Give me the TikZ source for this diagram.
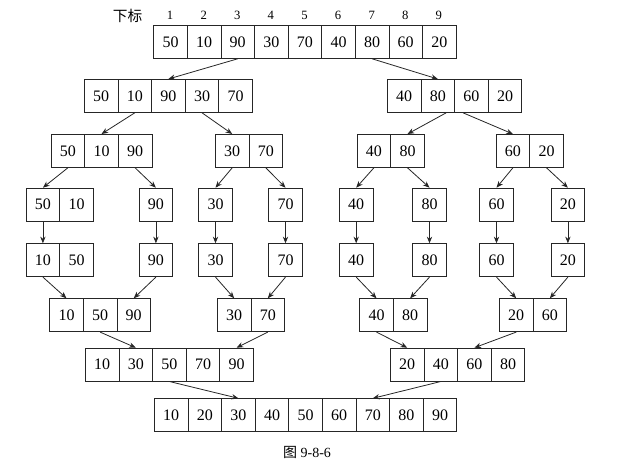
\documentclass[tikz,border=0pt]{standalone}
\usepackage{fontspec}
\setmainfont{Liberation Serif}
\newfontfamily\cjk{Noto Sans CJK SC}
\usetikzlibrary{arrows.meta,calc}
\newcommand{\cellrow}[4]{%
  \foreach \v [count=\i] in {#4} {
    \node[cell, anchor=north west] (#1-\i) at ({#2+(\i-1)*33.6},#3) {\v};
  }}
\begin{document}
\begin{tikzpicture}[x=0.75pt,y=-0.75pt,
  cell/.style={draw=black!85, line width=0.6pt, minimum width=25.2pt, minimum height=24.75pt, inner sep=0pt, font=\fontsize{12}{14}\selectfont},
  arr/.style={draw=black!85, line width=0.6pt, -{Stealth[length=5pt,width=4pt]}},
  hdr/.style={font=\fontsize{9.5}{11}\selectfont, inner sep=0pt}]
\useasboundingbox (0,0) rectangle (630,466);
% header
\node[hdr, font=\cjk\fontsize{11}{12}\selectfont] (lbl) at (127.5,15.5) {下标};
\foreach \i in {1,...,9} {
  \node[hdr] (h-\i) at ({153.3+(\i-0.5)*33.6},15.5) {\i};
}
% row 1
\cellrow{ra}{153.3}{25}{50,10,90,30,70,40,80,60,20}
% row 2
\cellrow{lb}{84}{79}{50,10,90,30,70}
\cellrow{rb}{387}{79}{40,80,60,20}
% row 3
\cellrow{ac}{50.7}{134}{50,10,90}
\cellrow{bc}{215}{134}{30,70}
\cellrow{cc}{356.7}{134}{40,80}
\cellrow{dc}{495.7}{134}{60,20}
% row 4
\cellrow{pd}{25.7}{187.7}{50,10}
\cellrow{sda}{138.7}{187.7}{90}
\cellrow{sdb}{198.3}{187.7}{30}
\cellrow{sdc}{268.3}{187.7}{70}
\cellrow{sdd}{339}{187.7}{40}
\cellrow{sde}{412.3}{187.7}{80}
\cellrow{sdf}{479.3}{187.7}{60}
\cellrow{sdg}{550.7}{187.7}{20}
% row 5
\cellrow{pe}{25.7}{243.3}{10,50}
\cellrow{sea}{138.7}{243.3}{90}
\cellrow{seb}{198.3}{243.3}{30}
\cellrow{sec}{268.3}{243.3}{70}
\cellrow{sed}{339}{243.3}{40}
\cellrow{see}{412.3}{243.3}{80}
\cellrow{sef}{479.3}{243.3}{60}
\cellrow{seg}{550.7}{243.3}{20}
% row 6
\cellrow{af}{49.3}{298.3}{10,50,90}
\cellrow{bf}{217}{298.3}{30,70}
\cellrow{cf}{359.3}{298.3}{40,80}
\cellrow{df}{499}{298.3}{20,60}
% row 7
\cellrow{lg}{85}{347.7}{10,30,50,70,90}
\cellrow{rg}{390}{347.7}{20,40,60,80}
% row 8
\cellrow{rh}{154}{398.3}{10,20,30,40,50,60,70,80,90}
% caption
\node[font=\fontsize{10.5}{12}\selectfont, inner sep=0pt] (cap) at (307,452) {{\cjk 图} 9-8-6};
% arrows
\draw[arr] (ra-3.south) -- (lb-3.north);
\draw[arr] (ra-7.south) -- (rb-2.north);
\draw[arr] (lb-2.south) -- (ac-2.north);
\draw[arr] (lb-4.south) -- (bc-1.north);
\draw[arr] ($(rb-2.south)!0.25!(rb-3.south)$) -- (cc-2.north);
\draw[arr] ($(rb-2.south)!0.75!(rb-3.south)$) -- (dc-1.north);
\draw[arr] (ac-1.south) -- (pd-1.north);
\draw[arr] (ac-3.south) -- (sda-1.north);
\draw[arr] (bc-1.south) -- (sdb-1.north);
\draw[arr] (bc-2.south) -- (sdc-1.north);
\draw[arr] (cc-1.south) -- (sdd-1.north);
\draw[arr] (cc-2.south) -- (sde-1.north);
\draw[arr] (dc-1.south) -- (sdf-1.north);
\draw[arr] (dc-2.south) -- (sdg-1.north);
\draw[arr] (pd-1.south) -- (pe-1.north);
\draw[arr] (sda-1.south) -- (sea-1.north);
\draw[arr] (sdb-1.south) -- (seb-1.north);
\draw[arr] (sdc-1.south) -- (sec-1.north);
\draw[arr] (sdd-1.south) -- (sed-1.north);
\draw[arr] (sde-1.south) -- (see-1.north);
\draw[arr] (sdf-1.south) -- (sef-1.north);
\draw[arr] (sdg-1.south) -- (seg-1.north);
\draw[arr] (pe-1.south) -- (af-1.north);
\draw[arr] (sea-1.south) -- (af-3.north);
\draw[arr] (seb-1.south) -- (bf-1.north);
\draw[arr] (sec-1.south) -- (bf-2.north);
\draw[arr] (sed-1.south) -- (cf-1.north);
\draw[arr] (see-1.south) -- (cf-2.north);
\draw[arr] (sef-1.south) -- (df-1.north);
\draw[arr] (seg-1.south) -- (df-2.north);
\draw[arr] (af-2.south) -- (lg-2.north);
\draw[arr] (bf-2.south) -- (lg-5.north);
\draw[arr] (cf-1.south) -- (rg-1.north);
\draw[arr] (df-1.south) -- (rg-3.north);
\draw[arr] (lg-3.south) -- (rh-3.north);
\draw[arr] (rg-2.south) -- (rh-7.north);
\end{tikzpicture}
\end{document}
